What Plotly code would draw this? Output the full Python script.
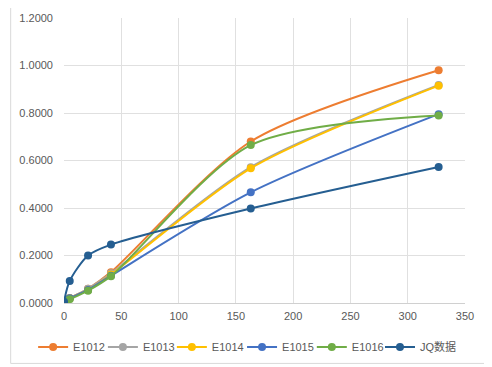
import plotly.graph_objects as go

x_days = [0, 5, 21, 41, 163, 327]
series_names = ["E1012", "E1013", "E1014", "E1015", "E1016", "JQ数据"]
e1012 = [0.005, 0.02, 0.06, 0.13, 0.68, 0.98]
e1013 = [0.005, 0.02, 0.06, 0.125, 0.572, 0.918]
e1014 = [0.005, 0.02, 0.055, 0.12, 0.567, 0.915]
e1015 = [0.005, 0.02, 0.055, 0.115, 0.466, 0.795]
e1016 = [0.005, 0.016, 0.052, 0.113, 0.665, 0.79]
jq = [0.005, 0.093, 0.20, 0.246, 0.398, 0.573]
x_ticks = [0, 50, 100, 150, 200, 250, 300, 350]
y_ticks = [0, 0.2, 0.4, 0.6, 0.8, 1.0, 1.2]

colors = ["#ED7D31", "#A5A5A5", "#FFC000", "#4472C4", "#70AD47", "#255E91"]
values = [e1012, e1013, e1014, e1015, e1016, jq]
legend_x = [-0.077, 0.097, 0.269, 0.444, 0.618, 0.788]

fig = go.Figure()
legend_layouts = {}
leg_font = dict(size=11, color="#595959")
for i, (name, vals, c) in enumerate(zip(series_names, values, colors)):
    lg = "legend" if i == 0 else f"legend{i + 1}"
    fig.add_trace(go.Scatter(
        x=x_days, y=vals, name=name, mode="lines+markers",
        line=dict(color=c, width=2, shape="spline", smoothing=0.8),
        marker=dict(color=c, size=8),
        legend=lg,
    ))
    legend_layouts[lg] = dict(orientation="h", x=legend_x[i], xanchor="left",
                              y=-0.154, yanchor="middle", font=leg_font,
                              itemwidth=30, bgcolor="rgba(0,0,0,0)")

# page body has an 8px default margin, so the figure is sized/offset to compensate
font = "Liberation Sans, Noto Sans CJK SC, sans-serif"
fig.update_layout(
    width=484, height=359,
    margin=dict(l=56, r=27, t=10, b=64, autoexpand=False),
    paper_bgcolor="white", plot_bgcolor="white",
    font=dict(family=font, size=11, color="#595959"),
    showlegend=True,
    xaxis=dict(range=[0, 350], tickvals=x_ticks, showgrid=True, gridcolor="#E0E0E0",
               gridwidth=1, zeroline=False, showline=True, linecolor="#D0D0D0",
               ticks="", ticklabelstandoff=3, automargin=False,
               tickfont=dict(size=11, color="#595959")),
    yaxis=dict(range=[0, 1.2], tickvals=y_ticks, tickformat=".4f", showgrid=True,
               gridcolor="#E0E0E0", gridwidth=1, zeroline=False, showline=False,
               ticks="", ticklabelstandoff=10, automargin=False,
               tickfont=dict(size=11, color="#595959")),
    shapes=[dict(type="rect", xref="paper", yref="paper",
                 x0=-0.133, x1=1.057, y0=-0.212, y1=1.047,
                 line=dict(color="#D9D9D9", width=1), layer="below")],
    **legend_layouts,
)
fig.write_html("out.html")
